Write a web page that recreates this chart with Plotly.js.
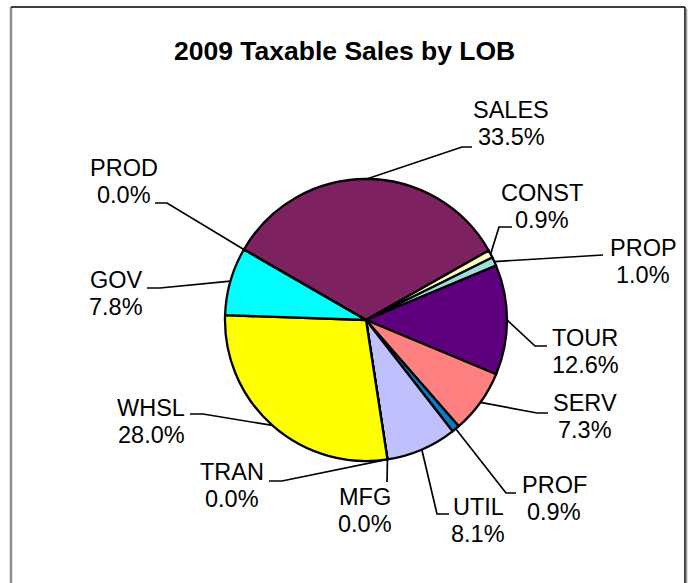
<!DOCTYPE html>
<html>
<head>
<meta charset="utf-8">
<script src="https://cdn.plot.ly/plotly-3.0.1.min.js"></script>
<style>
  html, body { margin: 0; padding: 0; background: #ffffff; }
  #chart { width: 691px; height: 583px; }
</style>
</head>
<body>
<div id="chart"></div>
<script>
// ---- data ----
const categories = ["SALES", "CONST", "PROP", "TOUR", "SERV", "PROF", "UTIL", "MFG", "TRAN", "WHSL", "GOV", "PROD"];
const shares = [33.5, 0.9, 1.0, 12.6, 7.3, 0.9, 8.1, 0.0, 0.0, 28.0, 7.8, 0.0];
const sliceColors = ["#7E2160", "#FFFFC0", "#9FDCDC", "#5E007E", "#FF8080", "#0A7CC0", "#C0C0FF", "#FFFF99", "#FFFFFF", "#FFFF00", "#00FFFF", "#CC99FF"];
const chartTitle = "2009 Taxable Sales by LOB";

// ---- layout geometry (pixels) ----
const W = 691, H = 583;
const CX = 366, CY = 320, R = 141;
const ROTATION = 300; // degrees clockwise from 12 o'clock where first slice starts

// label placement: [textCenterX, nameLineCenterY, elbowX, elbowY, endX]
const labelPlacement = {
  SALES: [511, 110, 462, 147, 472],
  CONST: [542, 193, 499, 227, 512],
  PROP:  [643, 248, 603, 255, 603],
  TOUR:  [585, 338, 535, 346, 547],
  SERV:  [585, 403, 537, 413, 548],
  PROF:  [554, 485, 506, 493, 516],
  UTIL:  [478, 507, 437, 514, 449],
  MFG:   [365, 497, 387, 482, 387],
  TRAN:  [232, 472, 282, 481, 269],
  WHSL:  [151, 408, 203, 414, 190],
  GOV:   [116, 280, 160, 288, 147],
  PROD:  [124, 168, 167, 203, 155]
};
const LINE_GAP = 27;

const px = x => x / W;
const py = y => 1 - y / H;

const total = shares.reduce((a, b) => a + b, 0);
const annotations = [];
const shapes = [];

let cum = 0;
categories.forEach((name, i) => {
  const frac = shares[i] / total;
  const midDeg = ROTATION + (cum + frac / 2) * 360;
  cum += frac;
  const a = midDeg * Math.PI / 180;
  const ex = CX + R * Math.sin(a);
  const ey = CY - R * Math.cos(a);
  const p = labelPlacement[name];
  const pct = (frac * 100).toFixed(1) + "%";
  annotations.push({
    xref: "paper", yref: "paper", x: px(p[0]), y: py(p[1]),
    xanchor: "center", yanchor: "middle", showarrow: false,
    text: name, font: { family: "Liberation Sans, Arial, sans-serif", size: 23.5, color: "#000" }
  });
  annotations.push({
    xref: "paper", yref: "paper", x: px(p[0]), y: py(p[1] + LINE_GAP),
    xanchor: "center", yanchor: "middle", showarrow: false,
    text: pct, font: { family: "Liberation Sans, Arial, sans-serif", size: 23.5, color: "#000" }
  });
  shapes.push({
    type: "path", xref: "paper", yref: "paper",
    path: `M ${px(ex)} ${py(ey)} L ${px(p[2])} ${py(p[3])} L ${px(p[4])} ${py(p[3])}`,
    line: { color: "#000", width: 1.7 }
  });
});

// chart frame
shapes.push({ type: "line", xref: "paper", yref: "paper", x0: px(11), x1: px(11), y0: py(7), y1: py(600), line: { color: "#8c8c8c", width: 2.5 } });
shapes.push({ type: "line", xref: "paper", yref: "paper", x0: px(11), x1: px(685), y0: py(7), y1: py(7), line: { color: "#000", width: 1.5 } });
shapes.push({ type: "line", xref: "paper", yref: "paper", x0: px(685), x1: px(685), y0: py(7), y1: py(600), line: { color: "#000", width: 1.5 } });
shapes.push({ type: "line", xref: "paper", yref: "paper", x0: px(686.5), x1: px(686.5), y0: py(9), y1: py(600), line: { color: "#9a9a9a", width: 1.5 } });

annotations.push({
  xref: "paper", yref: "paper", x: px(344), y: py(51),
  xanchor: "center", yanchor: "middle", showarrow: false,
  text: "<b>" + chartTitle + "</b>",
  font: { family: "Liberation Sans, Arial, sans-serif", size: 26.5, color: "#000" }
});

const trace = {
  type: "pie",
  labels: categories,
  values: shares,
  sort: false,
  direction: "clockwise",
  rotation: ROTATION,
  textinfo: "none",
  hoverinfo: "label+percent",
  marker: { colors: sliceColors, line: { color: "#000", width: 2.3 } },
  domain: { x: [px(CX - R), px(CX + R)], y: [py(CY + R), py(CY - R)] },
  showlegend: false
};

const layout = {
  width: W, height: H,
  margin: { l: 0, r: 0, t: 0, b: 0 },
  paper_bgcolor: "#fff",
  showlegend: false,
  annotations: annotations,
  shapes: shapes
};

Plotly.newPlot("chart", [trace], layout, { displayModeBar: false, staticPlot: true });
</script>
</body>
</html>
